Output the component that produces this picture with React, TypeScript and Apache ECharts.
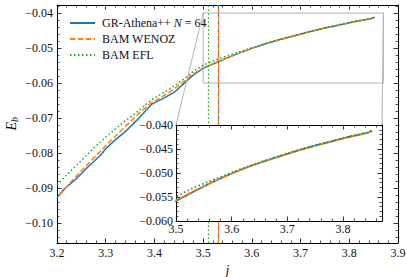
import React, { useEffect, useRef } from "react";
import * as echarts from "echarts";

// ---------- data ----------
const seriesNames = ["GR-Athena++ N = 64", "BAM WENOZ", "BAM EFL"];

const jAthena = [3.2, 3.216, 3.237, 3.264, 3.285, 3.292, 3.299, 3.319, 3.34, 3.364, 3.394, 3.422, 3.442, 3.463, 3.48, 3.5, 3.533, 3.567, 3.6, 3.63, 3.66, 3.69, 3.72, 3.75, 3.78, 3.81, 3.83, 3.845, 3.852];
const eAthena = [-0.0927, -0.0901, -0.0877, -0.0839, -0.0812, -0.0802, -0.0789, -0.0763, -0.0739, -0.0706, -0.0661, -0.0641, -0.0625, -0.0598, -0.0577, -0.0558, -0.0538, -0.0518, -0.0501, -0.0487, -0.0475, -0.0464, -0.0453, -0.0443, -0.0434, -0.0425, -0.042, -0.0416, -0.0412];

const jWenoz = [3.205, 3.223, 3.251, 3.278, 3.305, 3.333, 3.36, 3.394, 3.429, 3.463, 3.48, 3.5, 3.533, 3.567, 3.6, 3.63, 3.66, 3.69, 3.72, 3.75, 3.78, 3.81, 3.83, 3.845, 3.852];
const eWenoz = [-0.092, -0.0891, -0.0849, -0.0811, -0.0772, -0.0734, -0.0697, -0.0656, -0.0628, -0.0593, -0.0573, -0.0557, -0.0537, -0.0518, -0.0501, -0.0487, -0.0475, -0.0464, -0.0453, -0.0443, -0.0434, -0.0425, -0.042, -0.0416, -0.0412];

const jEfl = [3.2, 3.223, 3.251, 3.278, 3.305, 3.336, 3.36, 3.394, 3.429, 3.463, 3.48, 3.5, 3.533, 3.567, 3.6, 3.63, 3.66, 3.69, 3.72, 3.75, 3.78, 3.81, 3.83, 3.845, 3.852];
const eEfl = [-0.0891, -0.0858, -0.082, -0.0782, -0.0749, -0.0712, -0.0688, -0.0648, -0.0619, -0.0586, -0.0566, -0.0549, -0.053, -0.0514, -0.0499, -0.0486, -0.0474, -0.0463, -0.0452, -0.0442, -0.0433, -0.0424, -0.0419, -0.0415, -0.0411];

// vertical markers (j values)
const markerJ = [3.534, 3.533, 3.514];

const colors = ["#1f77b4", "#ff7f0e", "#2ca02c"];
const lineTypes: any[] = ["solid", [5.5, 2.4], [1.5, 2.5]];

// axes
const mainXRange = [3.2, 3.9];
const mainXInterval = 0.1;
const mainYRange = [-0.1057, -0.0377];
const mainYMajor = [-0.1, -0.09, -0.08, -0.07, -0.06, -0.05, -0.04];
const insetXRange = [3.5, 3.87];
const insetXMajor = [3.5, 3.6, 3.7, 3.8];
const insetYRange = [-0.06, -0.04];
const insetYInterval = 0.005;
const zoomJ = [3.5, 3.87];
const zoomE = [-0.06, -0.04];

function stepValues(from: number, to: number, step: number, skip: number[]) {
  const out: number[] = [];
  const n = Math.round((to - from) / step);
  for (let i = 0; i <= n; i++) {
    const v = +(from + i * step).toFixed(6);
    if (!skip.some((s) => Math.abs(s - v) < 1e-9)) out.push(v);
  }
  return out;
}
const mainYMinor = stepValues(-0.104, -0.038, 0.002, mainYMajor);
const insetXMinor = stepValues(3.52, 3.86, 0.02, insetXMajor);

const FONT = "Liberation Serif";
const TXT = "#111";

const pairs = (j: number[], e: number[]) => j.map((x, i) => [x, e[i]]);
const dataSets = [pairs(jAthena, eAthena), pairs(jWenoz, eWenoz), pairs(jEfl, eEfl)];

const minus = (v: number, d: number) => (v < 0 ? "\u2212" : "") + Math.abs(v).toFixed(d);

function lineAxisBase(extra: any) {
  return {
    type: "value",
    axisLine: { show: true, onZero: false, lineStyle: { color: "#000", width: 1 } },
    splitLine: { show: false },
    minorSplitLine: { show: false },
    ...extra,
  };
}

export default function App() {
  const ref = useRef<HTMLDivElement>(null);
  useEffect(() => {
    if (!ref.current) return;
    const chart = echarts.init(ref.current, undefined, { renderer: "svg" });

    const majorTick = (custom?: number[]) => ({
      show: true,
      inside: true,
      length: 4.5,
      lineStyle: { color: "#000", width: 0.8 },
      ...(custom ? { customValues: custom } : {}),
    });
    const minorTickAxis = (custom: number[]) => ({
      show: true,
      inside: true,
      length: 2.5,
      lineStyle: { color: "#000", width: 0.7 },
      customValues: custom,
    });
    const labelStyle = { fontFamily: FONT, fontSize: 12, color: TXT };

    const xAxis: any[] = [
      lineAxisBase({
        gridIndex: 0, position: "bottom", min: mainXRange[0], max: mainXRange[1], interval: mainXInterval,
        axisTick: majorTick(),
        minorTick: { show: true, splitNumber: 5, length: 2.5, lineStyle: { color: "#000", width: 0.7 } },
        axisLabel: { ...labelStyle, margin: 4, formatter: (v: number) => v.toFixed(1) },
        name: "j", nameLocation: "middle", nameGap: 16,
        nameTextStyle: { fontFamily: FONT, fontSize: 14, fontStyle: "italic", color: TXT },
      }),
      lineAxisBase({
        gridIndex: 0, position: "top", min: mainXRange[0], max: mainXRange[1], interval: mainXInterval,
        axisTick: majorTick(),
        minorTick: { show: true, splitNumber: 5, length: 2.5, lineStyle: { color: "#000", width: 0.7 } },
        axisLabel: { show: false },
      }),
      lineAxisBase({
        gridIndex: 1, position: "bottom", min: insetXRange[0], max: insetXRange[1], z: 11,
        axisTick: majorTick(insetXMajor),
        axisLabel: { ...labelStyle, margin: 2, customValues: insetXMajor, formatter: (v: number) => v.toFixed(1) },
      }),
      lineAxisBase({
        gridIndex: 1, position: "bottom", min: insetXRange[0], max: insetXRange[1], z: 11,
        axisLine: { show: false }, axisTick: minorTickAxis(insetXMinor), axisLabel: { show: false },
      }),
      lineAxisBase({
        gridIndex: 1, position: "top", min: insetXRange[0], max: insetXRange[1], z: 11,
        axisTick: majorTick(insetXMajor), axisLabel: { show: false },
      }),
      lineAxisBase({
        gridIndex: 1, position: "top", min: insetXRange[0], max: insetXRange[1], z: 11,
        axisLine: { show: false }, axisTick: minorTickAxis(insetXMinor), axisLabel: { show: false },
      }),
    ];

    const yAxis: any[] = [
      lineAxisBase({
        gridIndex: 0, position: "left", min: mainYRange[0], max: mainYRange[1],
        axisTick: majorTick(mainYMajor),
        axisLabel: { ...labelStyle, margin: 4, customValues: mainYMajor, formatter: (v: number) => minus(v, 2) },
      }),
      lineAxisBase({
        gridIndex: 0, position: "left", min: mainYRange[0], max: mainYRange[1],
        axisLine: { show: false }, axisTick: minorTickAxis(mainYMinor), axisLabel: { show: false },
      }),
      lineAxisBase({
        gridIndex: 0, position: "right", min: mainYRange[0], max: mainYRange[1],
        axisTick: majorTick(mainYMajor), axisLabel: { show: false },
      }),
      lineAxisBase({
        gridIndex: 0, position: "right", min: mainYRange[0], max: mainYRange[1],
        axisLine: { show: false }, axisTick: minorTickAxis(mainYMinor), axisLabel: { show: false },
      }),
      lineAxisBase({
        gridIndex: 1, position: "left", min: insetYRange[0], max: insetYRange[1], interval: insetYInterval, z: 11,
        axisTick: majorTick(),
        minorTick: { show: true, splitNumber: 5, length: 2.5, lineStyle: { color: "#000", width: 0.7 } },
        axisLabel: { ...labelStyle, margin: 3, formatter: (v: number) => minus(v, 3) },
      }),
      lineAxisBase({
        gridIndex: 1, position: "right", min: insetYRange[0], max: insetYRange[1], interval: insetYInterval, z: 11,
        axisTick: majorTick(),
        minorTick: { show: true, splitNumber: 5, length: 2.5, lineStyle: { color: "#000", width: 0.7 } },
        axisLabel: { show: false },
      }),
    ];

    const mkSeries = (i: number, inset: boolean) => ({
      type: "line",
      name: inset ? seriesNames[i] + " (inset)" : seriesNames[i],
      xAxisIndex: inset ? 2 : 0,
      yAxisIndex: inset ? 4 : 0,
      data: dataSets[i],
      symbol: "none",
      showSymbol: false,
      smooth: false,
      clip: true,
      z: inset ? 12 + i : 2 + i,
      lineStyle: { color: colors[i], width: inset ? 1.8 : 1.5, type: lineTypes[i] },
      itemStyle: { color: colors[i] },
      markLine: {
        silent: true,
        symbol: ["none", "none"],
        label: { show: false },
        lineStyle: { color: colors[i], width: 1.2, type: lineTypes[i] },
        emphasis: { disabled: true },
        data: [{ xAxis: markerJ[i] }],
      },
      ...(i === 0 && !inset
        ? {
            markArea: {
              silent: true,
              itemStyle: { color: "rgba(0,0,0,0)", borderColor: "#b3b3b3", borderWidth: 1 },
              label: { show: false },
              data: [[{ coord: [zoomJ[0], zoomE[0]] }, { coord: [zoomJ[1], zoomE[1]] }]],
            },
          }
        : {}),
    });

    const series = [0, 1, 2].map((i) => mkSeries(i, false)).concat([0, 1, 2].map((i) => mkSeries(i, true)));

    chart.setOption({
      animation: false,
      backgroundColor: "#fff",
      textStyle: { fontFamily: FONT },
      grid: [
        { left: 57, top: 5, width: 341, height: 238, outerBoundsMode: "none", containLabel: false },
        { left: 176, top: 125, width: 206, height: 96, show: true, backgroundColor: "#fff", borderWidth: 0, z: 10, outerBoundsMode: "none", containLabel: false },
      ],
      legend: {
        show: true,
        data: seriesNames,
        orient: "vertical",
        left: 64,
        top: 12,
        itemWidth: 25,
        itemHeight: 10,
        itemGap: 4,
        selectedMode: false,
        itemStyle: { opacity: 0 },
        formatter: (name: string) =>
          name === seriesNames[0] ? "{a|GR-Athena++ }{i|N}{a| = 64}" : "{a|" + name + "}",
        textStyle: {
          fontFamily: FONT,
          fontSize: 12,
          color: TXT,
          padding: [0, 0, 0, 2],
          rich: {
            a: { fontFamily: FONT, fontSize: 12, color: TXT },
            i: { fontFamily: FONT, fontSize: 12, color: TXT, fontStyle: "italic" },
          },
        },
      },
      xAxis,
      yAxis,
      series,
    });

    const p = (ax: number, ay: number, v: number[]) =>
      chart.convertToPixel({ xAxisIndex: ax, yAxisIndex: ay } as any, v) as number[];
    const rTL = p(0, 0, [zoomJ[0], zoomE[1]]);
    const rTR = p(0, 0, [zoomJ[1], zoomE[1]]);
    const iTL = p(2, 4, [insetXRange[0], insetYRange[1]]);
    const iTR = p(2, 4, [insetXRange[1], insetYRange[1]]);
    const yMid = p(0, 0, [mainXRange[0], (mainYRange[0] + mainYRange[1]) / 2]);

    chart.setOption({
      graphic: [
        {
          id: "c1", type: "line", z: 5, silent: true,
          shape: { x1: rTL[0], y1: rTL[1], x2: iTL[0], y2: iTL[1] },
          style: { stroke: "#b3b3b3", lineWidth: 1 },
        },
        {
          id: "c2", type: "line", z: 5, silent: true,
          shape: { x1: rTR[0], y1: rTR[1], x2: iTR[0], y2: iTR[1] },
          style: { stroke: "#b3b3b3", lineWidth: 1 },
        },
        {
          id: "ylab", type: "group", x: 11, y: yMid[1], rotation: Math.PI / 2,
          children: [
            { type: "text", x: 2, y: 0, style: { text: "E", fontFamily: FONT, fontSize: 14, fontStyle: "italic", fill: TXT, align: "right", verticalAlign: "middle" } },
            { type: "text", x: 2, y: 3, style: { text: "b", fontFamily: FONT, fontSize: 10, fontStyle: "italic", fill: TXT, align: "left", verticalAlign: "middle" } },
          ],
        },
      ],
    });

    return () => chart.dispose();
  }, []);
  return <div ref={ref} style={{ position: "fixed", left: 0, top: 0, width: 407, height: 277 }} />;
}
